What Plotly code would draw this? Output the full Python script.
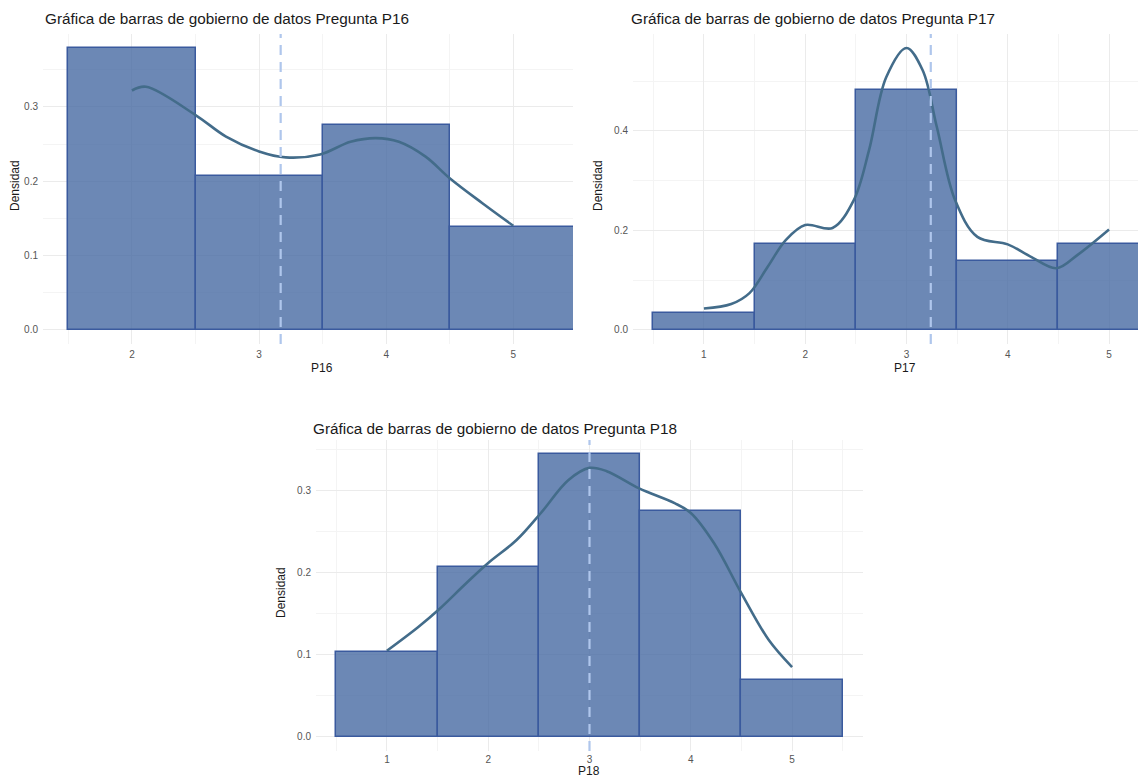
import plotly.graph_objects as go

# ---------------- data ----------------
categories_p16 = [2, 3, 4, 5]
density_p16 = [0.379, 0.207, 0.276, 0.138]
mean_p16 = 3.17
curve_x_p16 = [2.0, 2.11, 2.5, 2.74, 3.0, 3.21, 3.48, 3.72, 3.92, 4.1, 4.31, 4.5, 4.76, 5.0]
curve_y_p16 = [0.322, 0.327, 0.289, 0.260, 0.240, 0.232, 0.236, 0.253, 0.258, 0.253, 0.233, 0.204, 0.170, 0.140]

categories_p17 = [1, 2, 3, 4, 5]
density_p17 = [0.0345, 0.1724, 0.4828, 0.1379, 0.1724]
mean_p17 = 3.24
curve_x_p17 = [1.0, 1.27, 1.45, 1.63, 1.81, 2.0, 2.27, 2.48, 2.63, 2.80, 3.0, 3.16, 3.30, 3.48, 3.70, 4.0, 4.23, 4.48, 4.69, 5.0]
curve_y_p17 = [0.043, 0.052, 0.074, 0.127, 0.181, 0.211, 0.205, 0.261, 0.361, 0.508, 0.567, 0.522, 0.408, 0.261, 0.187, 0.172, 0.147, 0.124, 0.151, 0.202]

categories_p18 = [1, 2, 3, 4, 5]
density_p18 = [0.1034, 0.2069, 0.3448, 0.2759, 0.0690]
mean_p18 = 3.0
curve_x_p18 = [1.0, 1.31, 1.51, 1.78, 2.0, 2.28, 2.52, 2.79, 3.0, 3.17, 3.49, 3.84, 4.0, 4.23, 4.5, 4.77, 5.0]
curve_y_p18 = [0.105, 0.134, 0.155, 0.187, 0.212, 0.240, 0.273, 0.313, 0.328, 0.324, 0.303, 0.285, 0.273, 0.236, 0.175, 0.118, 0.085]

titles = ["Gráfica de barras de gobierno de datos Pregunta P16",
          "Gráfica de barras de gobierno de datos Pregunta P17",
          "Gráfica de barras de gobierno de datos Pregunta P18"]
xlabels = ["P16", "P17", "P18"]
ylabel = "Densidad"

# ---------------- style ----------------
PAGE_W, PAGE_H = 1146, 777
OFF = 8  # default body margin of the HTML page
W, H = PAGE_W - OFF, PAGE_H - OFF
FONT = "Liberation Sans, Arial, sans-serif"
BAR_FILL = "rgba(67,102,160,0.78)"
BAR_LINE = "#3A5A9E"
CURVE = "#436C8A"
MEAN = "#AFC6EC"
GRID = "#EBEBEB"
GRID_MINOR = "#F4F4F4"

def px(x):
    return (x - OFF) / W

def py(y):
    return 1 - (y - OFF) / H

panels = [
    dict(cats=categories_p16, dens=density_p16, mean=mean_p16, cx=curve_x_p16, cy=curve_y_p16,
         xr=[1.3, 5.47], yr=[-0.019, 0.398], xd=[43, 573], yd=[34, 344],
         ticks=[2, 3, 4, 5], yticks=[0.0, 0.1, 0.2, 0.3], minor0=1.5, xstand=3,
         title_pos=(43, 19), xlab_pos=(322, 368), ylab_pos=(15, 186)),
    dict(cats=categories_p17, dens=density_p17, mean=mean_p17, cx=curve_x_p17, cy=curve_y_p17,
         xr=[0.3, 5.365], yr=[-0.0283, 0.595], xd=[633, 1146], yd=[34, 344],
         ticks=[1, 2, 3, 4, 5], yticks=[0.0, 0.2, 0.4], minor0=0.5, xstand=3,
         title_pos=(629, 19), xlab_pos=(905, 368), ylab_pos=(598, 186)),
    dict(cats=categories_p18, dens=density_p18, mean=mean_p18, cx=curve_x_p18, cy=curve_y_p18,
         xr=[0.3, 5.7], yr=[-0.01725, 0.362], xd=[316, 863], yd=[440, 751],
         ticks=[1, 2, 3, 4, 5], yticks=[0.0, 0.1, 0.2, 0.3], minor0=0.5, xstand=1,
         title_pos=(311, 428), xlab_pos=(589, 771), ylab_pos=(281, 593)),
]

fig = go.Figure()
annotations = []
shapes = []

for i, p in enumerate(panels):
    n = "" if i == 0 else str(i + 1)
    xa, ya = "x" + n, "y" + n
    fig.add_trace(go.Bar(
        x=p["cats"], y=p["dens"], width=1.0,
        marker=dict(color=BAR_FILL, line=dict(color=BAR_LINE, width=1.5)),
        xaxis=xa, yaxis=ya, showlegend=False, hoverinfo="x+y"))
    fig.add_trace(go.Scatter(
        x=p["cx"], y=p["cy"], mode="lines", line=dict(color=CURVE, width=2.6, shape="spline"),
        xaxis=xa, yaxis=ya, showlegend=False))
    shapes.append(dict(type="line", xref=xa, yref=ya + " domain", x0=p["mean"], x1=p["mean"],
                       y0=0, y1=1, line=dict(color=MEAN, width=2.2, dash="10px,7px"), layer="above"))

    ystep = p["yticks"][1] - p["yticks"][0]
    fig.update_layout(**{
        "xaxis" + n: dict(
            domain=[px(p["xd"][0]), min(1.0, px(p["xd"][1]))], range=p["xr"], anchor=ya,
            tickvals=p["ticks"], ticktext=[str(t) for t in p["ticks"]],
            showgrid=True, gridcolor=GRID, gridwidth=1, zeroline=False, showline=False,
            ticks="", ticklabelstandoff=p["xstand"],
            tickfont=dict(size=10, color="#555555", family=FONT),
            minor=dict(tick0=p["minor0"], dtick=1, showgrid=True, gridcolor=GRID_MINOR, gridwidth=1),
            fixedrange=True),
        "yaxis" + n: dict(
            domain=[py(p["yd"][1]), py(p["yd"][0])], range=p["yr"], anchor=xa,
            tickvals=p["yticks"], ticktext=["%.1f" % t for t in p["yticks"]],
            showgrid=True, gridcolor=GRID, gridwidth=1, zeroline=False, showline=False,
            ticks="", ticklabelstandoff=4,
            tickfont=dict(size=10, color="#555555", family=FONT),
            minor=dict(tick0=ystep / 2, dtick=ystep, showgrid=True, gridcolor=GRID_MINOR, gridwidth=1),
            fixedrange=True),
    })

    annotations.append(dict(text=titles[i], x=px(p["title_pos"][0]), y=py(p["title_pos"][1]),
                            xref="paper", yref="paper", xanchor="left", yanchor="middle",
                            showarrow=False, font=dict(size=15.3, color="#1a1a1a", family=FONT)))
    annotations.append(dict(text=xlabels[i], x=px(p["xlab_pos"][0]), y=py(p["xlab_pos"][1]),
                            xref="paper", yref="paper", xanchor="center", yanchor="middle",
                            showarrow=False, font=dict(size=12, color="#1a1a1a", family=FONT)))
    annotations.append(dict(text=ylabel, x=px(p["ylab_pos"][0]), y=py(p["ylab_pos"][1]),
                            xref="paper", yref="paper", xanchor="center", yanchor="middle",
                            textangle=-90, showarrow=False,
                            font=dict(size=12, color="#1a1a1a", family=FONT)))

fig.update_layout(
    width=W, height=H, margin=dict(l=0, r=0, t=0, b=0),
    paper_bgcolor="white", plot_bgcolor="white",
    bargap=0, barmode="overlay",
    font=dict(family=FONT),
    annotations=annotations, shapes=shapes,
)

fig.write_html("out.html")
